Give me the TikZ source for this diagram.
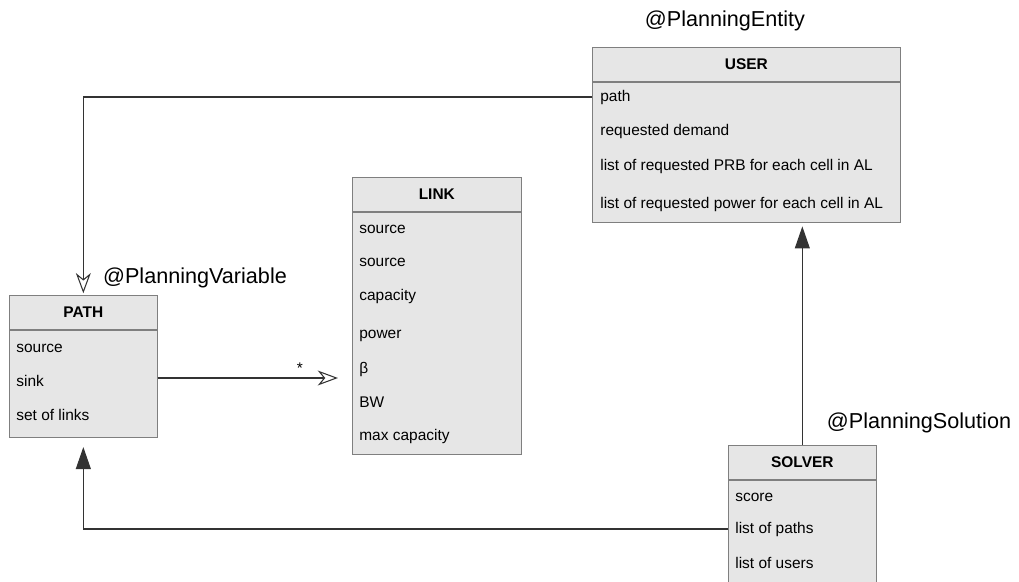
\documentclass[tikz,border=0pt]{standalone}
\usepackage{fontspec}
\setmainfont{Liberation Sans}
\usetikzlibrary{arrows.meta,calc,positioning}
\definecolor{boxfill}{HTML}{E6E6E6}
\definecolor{boxline}{HTML}{7F7F7F}

\begin{document}
\begin{tikzpicture}[
    x=0.02cm, y=-0.02cm,
    font=\fontsize{8.8}{10}\selectfont,
    head/.style={draw=boxline, fill=boxfill, anchor=north west, inner sep=0pt, minimum height=0.68cm, font=\fontsize{8.8}{10}\selectfont\bfseries},
    body/.style={draw=boxline, fill=boxfill, inner sep=0pt},
    attr/.style={anchor=west, inner sep=0pt},
    stereo/.style={font=\fontsize{12.3}{14}\selectfont, inner sep=0pt},
    conn/.style={line width=0.6pt, black!80},
    inherit/.style={conn, -{Triangle[length=12.5pt, width=8.5pt]}},
    assoc/.style={conn, -{Stealth[open, fill=white, length=11.5pt, width=8.5pt, inset=3.5pt]}},
]
\useasboundingbox (0,0) rectangle (1019,582);
\clip (0,0) rectangle (1019,582);

% USER
\node[head, minimum width=6.16cm] (uh) at (592,47) {USER};
\node[body, below=0pt of uh, minimum width=6.16cm, minimum height=2.80cm] (ub) {};
\foreach \i/\y/\txt in {1/97/path, 2/131/requested demand, 3/166/list of requested PRB for each cell in AL, 4/204/list of requested power for each cell in AL} {
    \node[attr] (u\i) at (600,\y) {\txt};
}
\node[stereo] (eLab) at (725,21) {@PlanningEntity};

% LINK
\node[head, minimum width=3.38cm] (lh) at (352,177) {LINK};
\node[body, below=0pt of lh, minimum width=3.38cm, minimum height=4.84cm] (lb) {};
\foreach \i/\y/\txt in {1/229/source, 2/262/source, 3/296/capacity, 4/336/power, 5/369/β, 6/402/BW, 7/436/max capacity} {
    \node[attr] (l\i) at (359,\y) {\txt};
}

% PATH
\node[head, minimum width=2.96cm] (ph) at (9,295) {PATH};
\node[body, below=0pt of ph, minimum width=2.96cm, minimum height=2.14cm] (pb) {};
\foreach \i/\y/\txt in {1/348/source, 2/381/sink, 3/415/set of links} {
    \node[attr] (p\i) at (16,\y) {\txt};
}
\node[stereo] (vLab) at (195,278) {@PlanningVariable};

% SOLVER (cut by the lower edge)
\node[head, minimum width=2.96cm] (sh) at (728,445) {SOLVER};
\node[body, below=0pt of sh, minimum width=2.96cm, minimum height=2.42cm] (sb) {};
\foreach \i/\y/\txt in {1/497/score, 2/529/list of paths, 3/563/list of users} {
    \node[attr] (s\i) at (735,\y) {\txt};
}
\node[stereo] (sLab) at (919,423) {@PlanningSolution};

% connectors
\draw[assoc, shorten >=1pt] (ub.west |- 0,97) -| (ph.north);
\draw[assoc, shorten >=8pt] (pb.east |- 0,378) -- (lb.west |- 0,378);
\node (star) at (300,368) {*};
\draw[inherit, shorten >=2.3pt] (sh.north) -- (sh.north |- ub.south);
\draw[inherit, shorten >=5.5pt] (sb.west |- 0,529) -| (pb.south);
\end{tikzpicture}
\end{document}
